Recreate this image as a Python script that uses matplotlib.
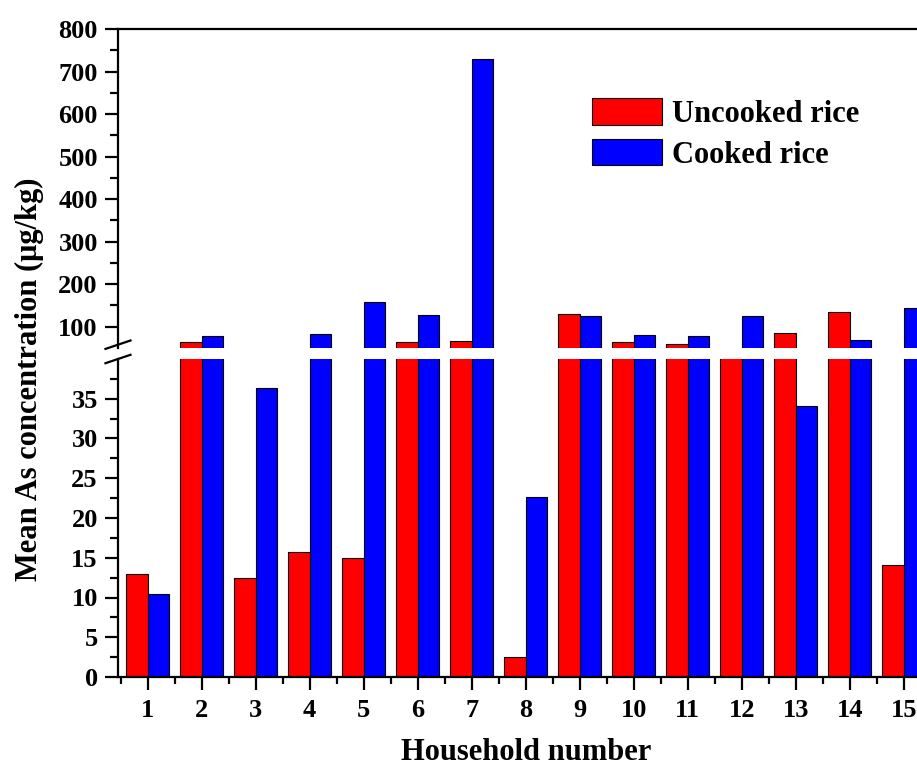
import matplotlib
matplotlib.use("Agg")
import matplotlib.pyplot as plt
from matplotlib.ticker import FixedLocator
from matplotlib.lines import Line2D
import numpy as np

# Mean arsenic concentration per household (µg/kg)
households = list(range(1, 16))
uncooked = [12.9, 63, 12.4, 15.7, 15.0, 63, 67, 2.55, 129, 63, 60, 47, 86, 134, 14.1]
cooked = [10.5, 78, 36.3, 82, 159, 128, 729, 22.7, 125, 80, 78, 125, 34.1, 69, 144]
series_labels = ["Uncooked rice", "Cooked rice"]
lower_ticks = [0, 5, 10, 15, 20, 25, 30, 35]
upper_ticks = [100, 200, 300, 400, 500, 600, 700, 800]

plt.rcParams["font.family"] = ["Liberation Serif", "DejaVu Serif"]
plt.rcParams["font.weight"] = "bold"

W, H = 917, 769
fig = plt.figure(figsize=(W / 100, H / 100), dpi=100)

unit = 54.0
left = 118 / W
width = 15.1 * unit / W
ax_hi = fig.add_axes([left, 421 / H, width, 319 / H])
ax_lo = fig.add_axes([left, 92 / H, width, 318 / H])

x = np.array(households, dtype=float)
red, blue = "#ff0000", "#0000ff"
for ax in (ax_hi, ax_lo):
    ax.bar(x - 0.2, uncooked, width=0.4, color=red, edgecolor="black",
           linewidth=0.8, label=series_labels[0])
    ax.bar(x + 0.2, cooked, width=0.4, color=blue, edgecolor="black",
           linewidth=0.8, label=series_labels[1])
    ax.set_xlim(0.45, 15.55)
    ax.spines["right"].set_visible(False)
    for s in ax.spines.values():
        s.set_linewidth(1.6)
    ax.tick_params(axis="y", which="major", direction="out", length=9.5,
                   width=1.6, labelsize=19, pad=5)
    ax.tick_params(axis="y", which="minor", direction="out", length=5.5,
                   width=1.6)

# upper panel
ax_hi.set_ylim(50, 800)
ax_hi.yaxis.set_major_locator(FixedLocator(upper_ticks))
ax_hi.yaxis.set_minor_locator(FixedLocator(np.arange(150, 800, 100)))
ax_hi.spines["bottom"].set_visible(False)
ax_hi.tick_params(axis="x", which="both", bottom=False, labelbottom=False)

# lower panel
ax_lo.set_ylim(0, 40)
ax_lo.yaxis.set_major_locator(FixedLocator(lower_ticks))
ax_lo.yaxis.set_minor_locator(FixedLocator(np.arange(2.5, 40, 5)))
ax_lo.spines["top"].set_visible(False)
ax_lo.xaxis.set_major_locator(FixedLocator(households))
ax_lo.xaxis.set_minor_locator(FixedLocator(np.arange(0.5, 16, 1)))
ax_lo.tick_params(axis="x", which="major", direction="out", length=9.5,
                  width=1.6, labelsize=19, pad=6)
ax_lo.tick_params(axis="x", which="minor", direction="out", length=5,
                  width=1.6)
ax_lo.set_xlabel("Household number", fontsize=22, fontweight="bold",
                 labelpad=12)

# break marks on the left spine
dx = 12.5 / (15.1 * unit)
for ax, yc, h in ((ax_hi, 3.3 / 319, 319), (ax_lo, 1.0, 318)):
    dy = 4.2 / h
    ax.add_line(Line2D([-dx, dx], [yc - dy, yc + dy], transform=ax.transAxes,
                       color="black", linewidth=1.6, clip_on=False))

fig.text(29 / W, (H - 379) / H, "Mean As concentration (\u03bcg/kg)",
         rotation=90, ha="center", va="center", fontsize=22,
         fontweight="bold")

ax_hi.legend(loc="upper left", bbox_to_anchor=(591.7 / W, (H - 98.5) / H),
             bbox_transform=fig.transFigure, frameon=False, fontsize=22,
             handlelength=2.29, handleheight=0.95, handletextpad=0.33,
             labelspacing=0.32, borderpad=0, borderaxespad=0)

fig.savefig("out.png", dpi=100)
